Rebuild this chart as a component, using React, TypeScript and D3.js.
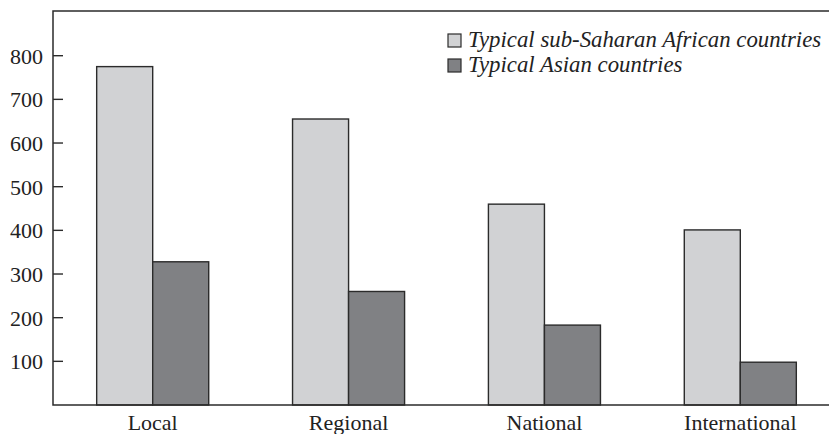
import React, { useEffect, useRef } from 'react';
import * as d3 from 'd3';

const categories = ['Local', 'Regional', 'National', 'International'];
const africaValues = [775, 655, 460, 401];
const asiaValues = [328, 260, 183, 98];
const yTicks = [100, 200, 300, 400, 500, 600, 700, 800];
const seriesNames = ['Typical sub-Saharan African countries', 'Typical Asian countries'];
const seriesColors = ['#d1d2d4', '#808184'];

const W = 829;
const H = 434;

export default function App() {
  const svgRef = useRef<SVGSVGElement>(null);

  useEffect(() => {
    if (!svgRef.current) return;
    const svg = d3.select(svgRef.current);
    svg.selectAll('*').remove();

    const left = 53;
    const top = 11;
    const bottom = 405;
    const font = '"Liberation Serif", "Times New Roman", serif';
    const ink = '#2b2b2b';

    const x = d3.scaleBand<string>()
      .domain(categories)
      .range([left, 840])
      .paddingInner(0.428)
      .paddingOuter(0.223);
    const sub = d3.scaleBand<number>()
      .domain([0, 1])
      .range([0, x.bandwidth()]);
    const y = d3.scaleLinear().domain([0, 800]).range([bottom, 55.7]);

    // bars
    const series = [africaValues, asiaValues];
    series.forEach((vals, s) => {
      svg.append('g')
        .selectAll('rect')
        .data(vals)
        .join('rect')
        .attr('x', (_, i) => (x(categories[i]) as number) + (sub(s) as number))
        .attr('y', d => y(d))
        .attr('width', sub.bandwidth())
        .attr('height', d => bottom - y(d))
        .attr('fill', seriesColors[s])
        .attr('stroke', ink)
        .attr('stroke-width', 1.4);
    });

    // frame: top, left, bottom
    svg.append('path')
      .attr('d', `M${W},${top}H${left}V${bottom}H${W}`)
      .attr('fill', 'none')
      .attr('stroke', ink)
      .attr('stroke-width', 1.5);

    // y ticks (inward) + labels
    const yg = svg.append('g');
    yg.selectAll('line')
      .data(yTicks)
      .join('line')
      .attr('x1', left)
      .attr('x2', left + 10)
      .attr('y1', d => y(d))
      .attr('y2', d => y(d))
      .attr('stroke', ink)
      .attr('stroke-width', 1.4);
    yg.selectAll('text')
      .data(yTicks)
      .join('text')
      .attr('x', 43)
      .attr('y', d => y(d) + 8)
      .attr('text-anchor', 'end')
      .attr('font-family', font)
      .attr('font-size', 22)
      .attr('fill', '#222')
      .text(d => d);

    // category labels (cut at the bottom edge, as in the source)
    svg.append('g')
      .selectAll('text')
      .data(categories)
      .join('text')
      .attr('x', d => (x(d) as number) + x.bandwidth() / 2)
      .attr('y', 430)
      .attr('text-anchor', 'middle')
      .attr('font-family', font)
      .attr('font-size', 22)
      .attr('fill', '#222')
      .text(d => d);

    // legend
    const lg = svg.append('g');
    seriesNames.forEach((name, i) => {
      const ly = 47 + i * 25;
      lg.append('rect')
        .attr('x', 448)
        .attr('y', ly - 13)
        .attr('width', 13)
        .attr('height', 13)
        .attr('fill', seriesColors[i])
        .attr('stroke', ink)
        .attr('stroke-width', 1.2);
      lg.append('text')
        .attr('x', 468)
        .attr('y', ly)
        .attr('font-family', font)
        .attr('font-style', 'italic')
        .attr('font-size', 22.8)
        .attr('fill', '#222')
        .text(name);
    });
  }, []);

  return (
    <div style={{ position: 'fixed', left: 0, top: 0 }}>
      <svg ref={svgRef} width={W} height={H} style={{ display: 'block', background: '#fff' }} />
    </div>
  );
}
